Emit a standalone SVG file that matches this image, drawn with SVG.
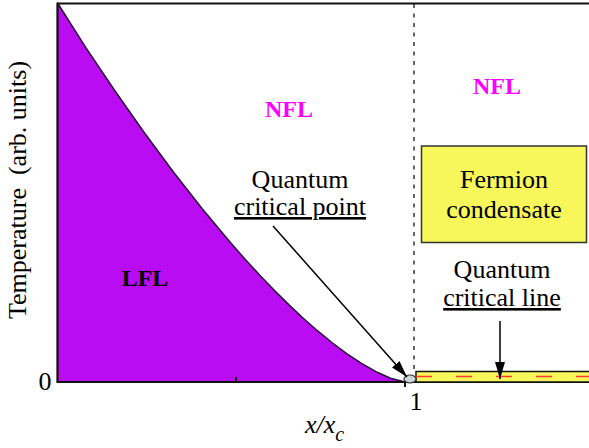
<svg xmlns="http://www.w3.org/2000/svg" width="589" height="448" viewBox="0 0 589 448">
<style>
.t{font-family:"Liberation Serif","Times New Roman",serif;font-size:26px;fill:#000}
.b{font-family:"Liberation Serif","Times New Roman",serif;font-size:24px;font-weight:bold}
.ax{stroke:#111;stroke-width:2;fill:none}
.conn{stroke:#000;stroke-width:1.5;fill:none}
.u{text-decoration:underline}
</style>
<defs>
<marker id="ah" viewBox="0 0 17 10" refX="17" refY="5" markerWidth="17" markerHeight="10" markerUnits="userSpaceOnUse" orient="auto">
<path d="M0,0 L17,5 L0,10 z" fill="#000"/>
</marker>
</defs>
<rect width="589" height="448" fill="#fff"/>
<g id="lfl-region">
<path d="M57.5,3 L86,47.9 L115,91 L144,132.2 L173,171.5 L202,208.5 L231,243.3 L245.5,259.7 L260,275.5 L274.5,290.6 L289,304.9 L303.5,318.5 L318,331.2 L332.5,343 L347,353.8 L361.5,363.4 L376,371.7 L390.5,378.2 L405,382 L57.5,382 Z" fill="#b90cf3" stroke="#2a0635" stroke-width="1.5" stroke-linejoin="round"/>
<text class="b" x="145" y="286" text-anchor="middle" fill="#000">LFL</text>
</g>
<g id="axes">
<line class="ax" x1="57" y1="3.5" x2="589" y2="3.5"/>
<line class="ax" x1="57.5" y1="3" x2="57.5" y2="383"/>
<line class="ax" x1="57" y1="382" x2="589" y2="382"/>
<line class="ax" x1="236" y1="377" x2="236" y2="382"/>
<line class="ax" x1="405" y1="382" x2="405" y2="387"/>
<line x1="414" y1="4" x2="414" y2="371" stroke="#000" stroke-width="1.2" stroke-dasharray="4 5.5"/>
<text class="t" x="45" y="390" text-anchor="middle">0</text>
<text class="t" x="416" y="410" text-anchor="middle">1</text>
<text class="t" x="305" y="433" font-style="italic">x/x<tspan font-size="20" dy="8">c</tspan></text>
<text class="t" transform="translate(26,190) rotate(-90)" text-anchor="middle" xml:space="preserve">Temperature  (arb. units)</text>
</g>
<g id="nfl-left"><text class="b" x="289" y="117" text-anchor="middle" fill="#ff00ff">NFL</text></g>
<g id="nfl-right"><text class="b" x="497" y="94" text-anchor="middle" fill="#ff00ff">NFL</text></g>
<g id="fermion-condensate">
<rect x="421.5" y="146" width="165" height="96.5" fill="#f7f75c" stroke="#333" stroke-width="1.5"/>
<text class="t" x="504" y="188" text-anchor="middle">Fermion</text>
<text class="t" x="504" y="218" text-anchor="middle">condensate</text>
</g>
<g id="critical-line">
<rect x="416" y="371.5" width="175" height="10.5" fill="#f7f75c" stroke="#111" stroke-width="1.5"/>
<line x1="416" y1="376.5" x2="589" y2="376.5" stroke="#ff3b2f" stroke-width="1.5" stroke-dasharray="16 24"/>
</g>
<g id="critical-point">
<ellipse cx="410" cy="379" rx="6" ry="4" fill="#cdd6d6" stroke="#333" stroke-width="1.2"/>
</g>
<g id="label-critical-point">
<text class="t" x="300" y="188" text-anchor="middle">Quantum</text>
<text class="t u" x="300" y="215" text-anchor="middle">critical point</text>
</g>
<g id="label-critical-line">
<text class="t" x="502" y="278" text-anchor="middle">Quantum</text>
<text class="t u" x="502" y="306" text-anchor="middle">critical line</text>
</g>
<g id="connectors">
<line class="conn" x1="273" y1="226" x2="407" y2="377" marker-end="url(#ah)"/>
<line class="conn" x1="500" y1="321" x2="500" y2="379" marker-end="url(#ah)"/>
</g>
</svg>
